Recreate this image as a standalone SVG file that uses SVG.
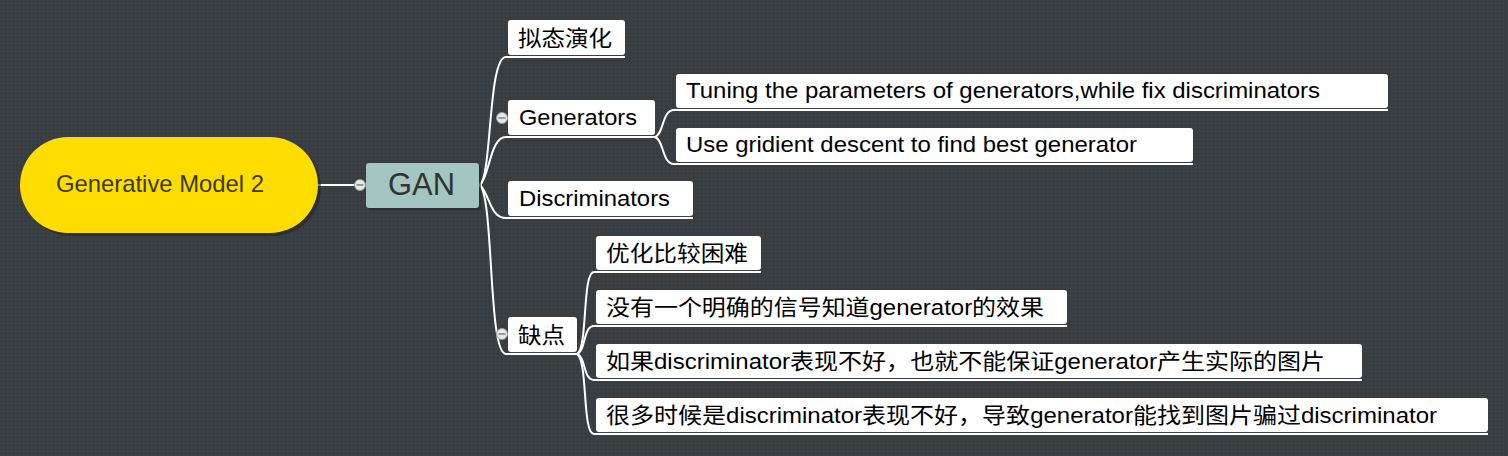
<svg xmlns="http://www.w3.org/2000/svg" width="1508" height="456" viewBox="0 0 1508 456">
<defs>
<pattern id="dots" width="4" height="4" patternUnits="userSpaceOnUse">
<rect width="4" height="4" fill="#3a3f43"/>
<rect x="1" y="1" width="1" height="1" fill="#2c3034"/>
</pattern>
<style>
.box{fill:#ffffff;}
.t{font-family:"Liberation Sans","Noto Sans CJK SC",sans-serif;font-size:22px;fill:#000000;}
.c{fill:none;stroke:#ffffff;stroke-width:2;}
.col{fill:#e8e8e8;stroke:#9a9a9a;stroke-width:1;}
.minus{stroke:#808080;stroke-width:1.5;}
.sh{fill:#23272a;opacity:0.6;}
</style>
</defs>
<rect width="1508" height="456" fill="url(#dots)"/>

<g id="connectors">
<path class="c" d="M318,185 H360"/>
<path class="c" d="M480,185 C492,175 488,57 506,57 H625"/>
<path class="c" d="M480,185 C490,175 490,137 506,137 H655"/>
<path class="c" d="M480,185 C490,195 490,218 506,218 H693"/>
<path class="c" d="M480,185 C494,200 488,354 506,354 H577"/>
<path class="c" d="M655,137 C664,134 662,110 674,110 H1388"/>
<path class="c" d="M655,137 C664,140 662,164 674,164 H1193"/>
<path class="c" d="M577,354 C588,348 582,272 594,272 H761"/>
<path class="c" d="M577,354 C586,351 583,326 594,326 H1067"/>
<path class="c" d="M577,354 C586,357 583,380 594,380 H1362"/>
<path class="c" d="M577,354 C588,360 582,434 594,434 H1488"/>
</g>

<g id="root">
<rect class="sh" x="23" y="140" width="298" height="96" rx="48"/>
<rect x="20" y="137" width="298" height="96" rx="48" fill="#ffdd00"/>
<text x="56" y="192" textLength="208" lengthAdjust="spacingAndGlyphs" font-family="Liberation Sans, sans-serif" font-size="24" fill="#3d3a10">Generative Model 2</text>
</g>

<g id="gan">
<rect class="sh" x="368" y="165" width="113" height="45" rx="3"/>
<rect x="366" y="163" width="113" height="45" rx="3" fill="#a3c6c0"/>
<text x="388" y="195" textLength="67" lengthAdjust="spacingAndGlyphs" font-family="Liberation Sans, sans-serif" font-size="32" fill="#333333">GAN</text>
<circle class="col" cx="360" cy="185" r="5.5"/>
<line class="minus" x1="356.5" y1="185" x2="363.5" y2="185"/>
</g>

<g id="n1">
<rect class="box" x="508" y="20" width="117" height="35" rx="3"/>
<text class="t" x="518" y="46" textLength="94" lengthAdjust="spacingAndGlyphs">拟态演化</text>
</g>

<g id="n2">
<rect class="box" x="508" y="100" width="147" height="35" rx="3"/>
<text class="t" x="519" y="125" textLength="118" lengthAdjust="spacingAndGlyphs">Generators</text>
<circle class="col" cx="502" cy="118" r="5.5"/>
<line class="minus" x1="498.5" y1="118" x2="505.5" y2="118"/>
</g>

<g id="n2a">
<rect class="box" x="676" y="74" width="712" height="34" rx="3"/>
<text class="t" x="686" y="98" textLength="634" lengthAdjust="spacingAndGlyphs">Tuning the parameters of generators,while fix discriminators</text>
</g>

<g id="n2b">
<rect class="box" x="676" y="128" width="517" height="34" rx="3"/>
<text class="t" x="686" y="152" textLength="451" lengthAdjust="spacingAndGlyphs">Use gridient descent to find best generator</text>
</g>

<g id="n3">
<rect class="box" x="508" y="181" width="185" height="35" rx="3"/>
<text class="t" x="519" y="206" textLength="151" lengthAdjust="spacingAndGlyphs">Discriminators</text>
</g>

<g id="n4">
<rect class="box" x="508" y="317" width="69" height="35" rx="3"/>
<text class="t" x="518" y="343" textLength="47" lengthAdjust="spacingAndGlyphs">缺点</text>
<circle class="col" cx="502" cy="334" r="5.5"/>
<line class="minus" x1="498.5" y1="334" x2="505.5" y2="334"/>
</g>

<g id="n4a">
<rect class="box" x="596" y="236" width="165" height="34" rx="3"/>
<text class="t" x="606" y="261" textLength="142" lengthAdjust="spacingAndGlyphs">优化比较困难</text>
</g>

<g id="n4b">
<rect class="box" x="596" y="290" width="471" height="34" rx="3"/>
<text class="t" x="606" y="315" textLength="438" lengthAdjust="spacingAndGlyphs">没有一个明确的信号知道generator的效果</text>
</g>

<g id="n4c">
<rect class="box" x="596" y="344" width="766" height="34" rx="3"/>
<text class="t" x="606" y="369" textLength="719" lengthAdjust="spacingAndGlyphs">如果discriminator表现不好，也就不能保证generator产生实际的图片</text>
</g>

<g id="n4d">
<rect class="box" x="596" y="398" width="892" height="34" rx="3"/>
<text class="t" x="606" y="423" textLength="831" lengthAdjust="spacingAndGlyphs">很多时候是discriminator表现不好，导致generator能找到图片骗过discriminator</text>
</g>
</svg>
